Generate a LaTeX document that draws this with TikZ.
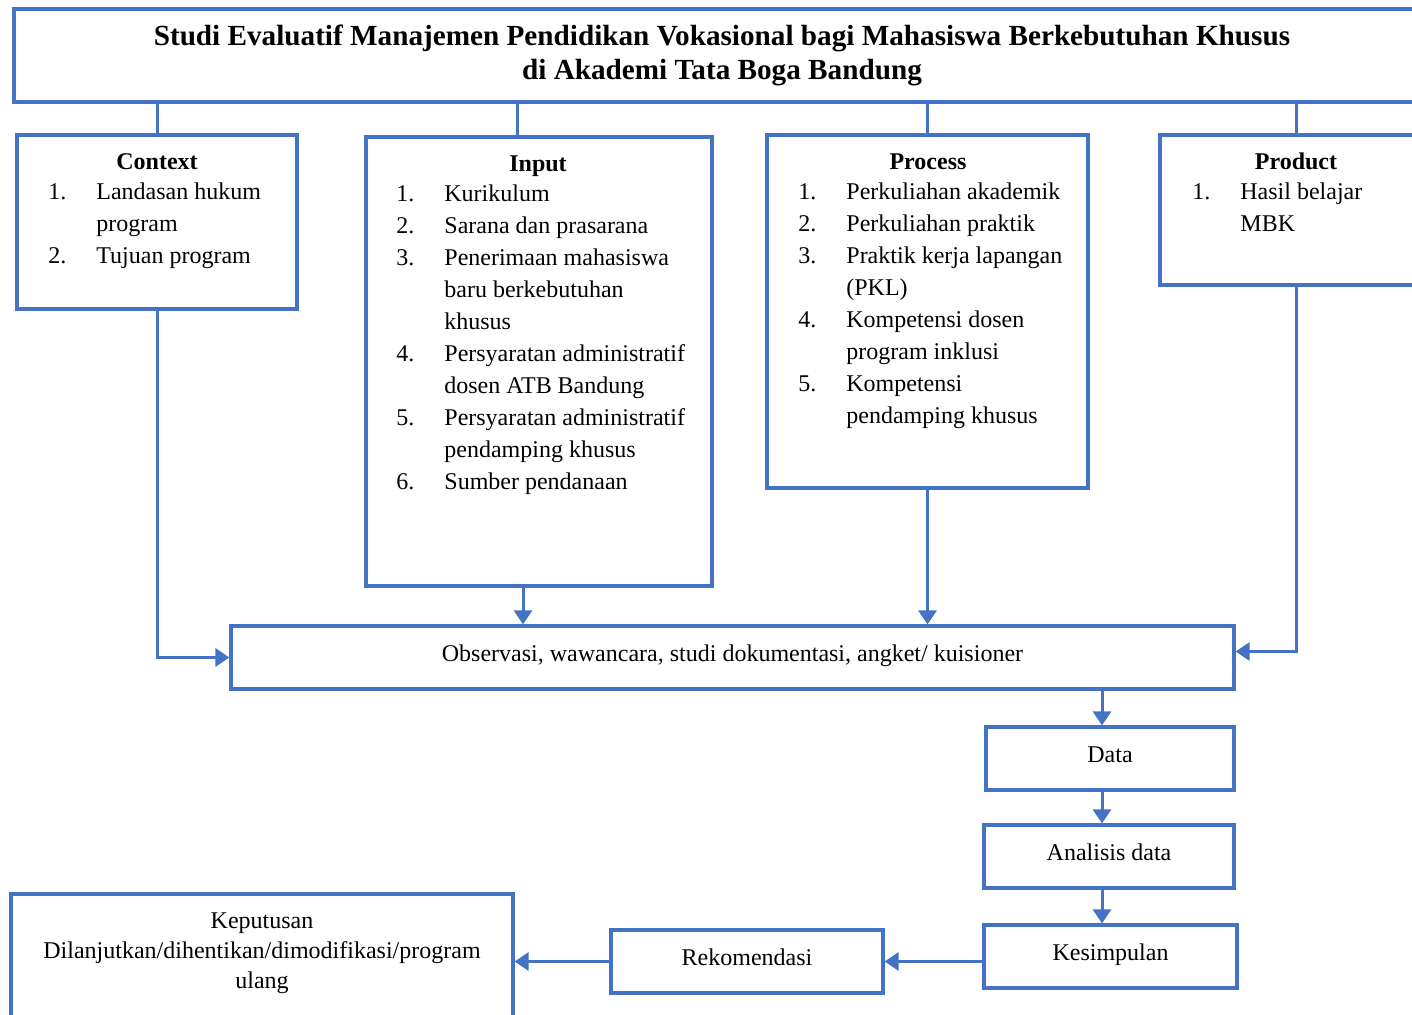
\documentclass[tikz,border=0pt]{standalone}
\usepackage{fontspec}
\setmainfont{Liberation Serif}
\usepackage{array}
\usetikzlibrary{arrows.meta, fit, calc, positioning}
\definecolor{boxblue}{RGB}{68,114,196}
\tikzset{
box/.style={draw=boxblue, line width=1.6pt, inner sep=0pt}, % every rectangle
px/.style 2 args={minimum width=#1*0.5pt, minimum height=#2*0.5pt}, % size in pixels of the sketch
onebox/.style={box, font=\fontsize{12}{16}\selectfont, text height=9pt, text depth=5pt}, % boxes with one line of text
head/.style={font=\bfseries\fontsize{12}{16}\selectfont, inner sep=0pt, anchor=base}, % box titles
txt/.style={font=\fontsize{12}{16}\selectfont, inner sep=0pt, anchor=base west}, % numbered lists
line/.style={draw=boxblue, line width=1.5pt}, % plain connectors
>={Triangle[length=7pt,width=9pt]}, % arrow heads
arr/.style={line, ->}, % connectors with arrow
}
\newcommand{\numlist}[2]{\begin{tabular}[t]{@{}p{24pt}@{}>{\raggedright\arraybackslash}p{#1}@{}}#2\end{tabular}}

\begin{document}
\begin{tikzpicture}[x=0.5pt, y=-0.5pt]
\clip (0,0) rectangle (1412,1015);

% title
\node[box, px={1416}{93}, align=center, font=\bfseries\fontsize{14.6}{17}\selectfont] (title) at (722,55.5)
    {Studi Evaluatif Manajemen Pendidikan Vokasional bagi Mahasiswa Berkebutuhan Khusus\\di Akademi Tata Boga Bandung};

% CIPP boxes
\node[box, fit={(17,135) (297,309)}] (ctx) {};
\node[box, fit={(366,137) (712,586)}] (inp) {};
\node[box, fit={(767,135) (1088,488)}] (proc) {};
\node[box, fit={(1160,135) (1432,285)}] (prod) {};

\node[head] (ctxhead) at (157,170) {Context};
\node[txt] (ctxlist) at (48,200) {\numlist{100pt}{1. & Landasan hukum\newline program\\ 2. & Tujuan program}};

\node[head] (inphead) at (538,172) {Input};
\node[txt] (inplist) at (396,202) {\numlist{140pt}{1. & Kurikulum\\ 2. & Sarana dan prasarana\\ 3. & Penerimaan mahasiswa\newline baru berkebutuhan\newline khusus\\ 4. & Persyaratan administratif\newline dosen ATB Bandung\\ 5. & Persyaratan administratif\newline pendamping khusus\\ 6. & Sumber pendanaan}};

\node[head] (prochead) at (928,170) {Process};
\node[txt] (proclist) at (798,200) {\numlist{130pt}{1. & Perkuliahan akademik\\ 2. & Perkuliahan praktik\\ 3. & Praktik kerja lapangan\newline (PKL)\\ 4. & Kompetensi dosen\newline program inklusi\\ 5. & Kompetensi\newline pendamping khusus}};

\node[head] (prodhead) at (1296,170) {Product};
\node[txt] (prodlist) at (1192,200) {\numlist{100pt}{1. & Hasil belajar\newline MBK}};

% flow boxes
\node[onebox, px={1003}{63}] (obs) at (732.5,657.5) {Observasi, wawancara, studi dokumentasi, angket/ kuisioner};
\node[onebox, px={248}{63}] (data) at (1110,758.5) {Data};
\node[onebox, px={250}{63}] (ana) at (1109,856.5) {Analisis data};
\node[onebox, px={253}{63}] (kes) at (1110.5,956.5) {Kesimpulan};
\node[onebox, px={272}{63}] (rek) at (747,961.5) {Rekomendasi};
\node[box, fit={(11,894) (513,1030)}] (kep) {};
\node[align=center, inner sep=0pt, font=\fontsize{12}{15}\selectfont] (keptext) at (262,953)
    {Keputusan\\Dilanjutkan/dihentikan/dimodifikasi/program\\ulang};

% title to boxes
\draw[line] (ctx.north) -- (ctx.north |- title.south);
\draw[line] ($(inp.north)+(-22,0)$) coordinate (inptop) -- (inptop |- title.south);
\draw[line] (proc.north) -- (proc.north |- title.south);
\draw[line] (prod.north) -- (prod.north |- title.south);

% boxes to observation
\draw[arr] (ctx.south) |- (obs.west);
\draw[arr] ($(inp.south)+(-16,0)$) coordinate (inpbot) -- (inpbot |- obs.north);
\draw[arr] (proc.south) -- (proc.south |- obs.north);
\draw[arr] (prod.south) |- ($(obs.east)+(0,-6)$);

% analysis chain
\coordinate (spine) at (1102,700);
\draw[arr] (obs.south -| spine) -- (data.north -| spine);
\draw[arr] (data.south -| spine) -- (ana.north -| spine);
\draw[arr] (ana.south -| spine) -- (kes.north -| spine);
\draw[arr] (kes.west |- rek.east) -- (rek.east);
\draw[arr] (rek.west) -- (rek.west -| kep.east);
\end{tikzpicture}
\end{document}
